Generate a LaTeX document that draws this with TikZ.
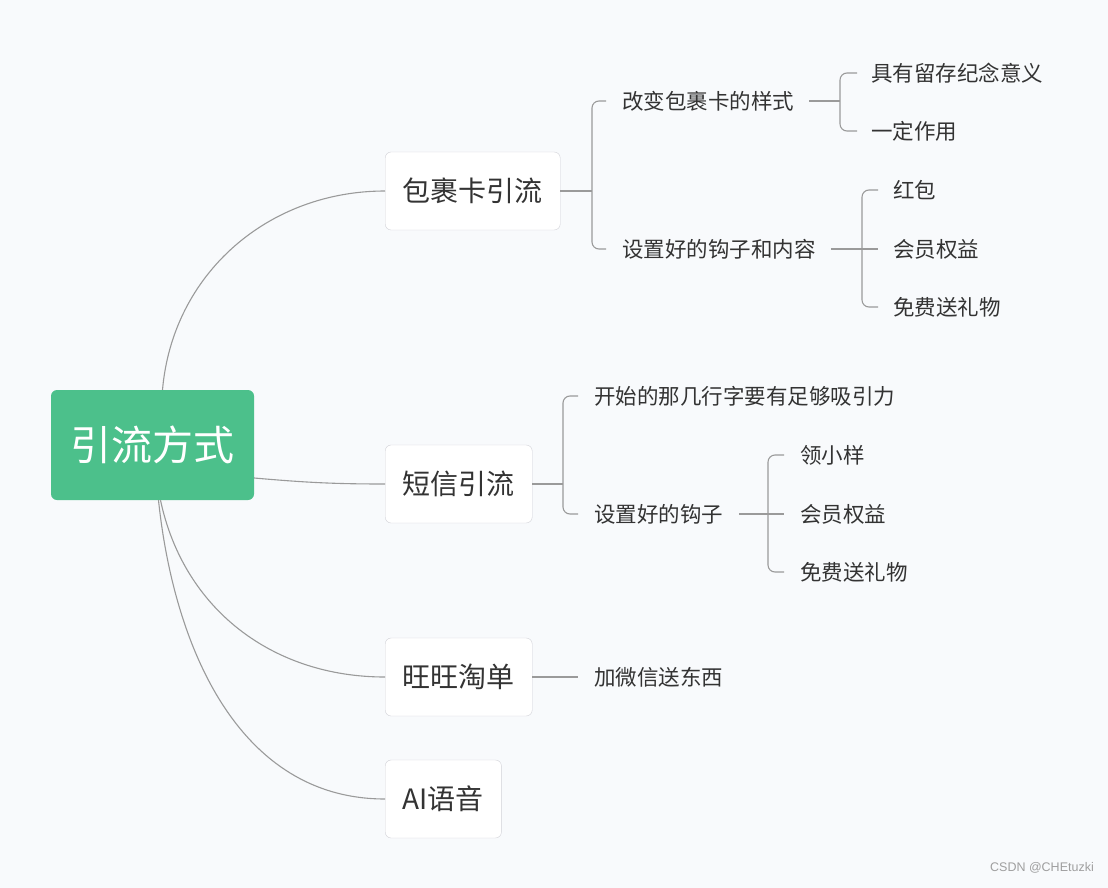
\documentclass[tikz,border=0pt]{standalone}
\usepackage{fontspec}
\setmainfont{Noto Sans CJK SC}
\newfontfamily\markfont{Liberation Sans}
\usetikzlibrary{positioning}
\definecolor{rootgreen}{HTML}{4CC08B}
\definecolor{textgray}{HTML}{333333}
\definecolor{linegray}{HTML}{9A9A9A}
\definecolor{boxline}{HTML}{D2D2D8}
\definecolor{bgcolor}{HTML}{F8FAFC}

\begin{document}
\begin{tikzpicture}[
  x=1pt, y=1pt,
  root/.style={rounded corners=6pt, fill=rootgreen, text=white, minimum width=203pt,
               minimum height=110pt, inner sep=0pt, font=\fontsize{41}{41}\selectfont},
  topic/.style={rounded corners=6pt, draw=boxline, fill=white, minimum height=78pt,
                inner xsep=17.5pt, anchor=west, text=textgray, font=\fontsize{28}{28}\selectfont},
  leaf/.style={anchor=west, inner sep=0pt, text=textgray, font=\fontsize{21.5}{21.5}\selectfont},
  link/.style={draw=linegray, line width=1.1pt},
  brace/.style={link, rounded corners=7pt},
]
\fill[bgcolor] (0,0) rectangle (1108,-888);
\useasboundingbox (0,0) rectangle (1108,-888);

\node[root]  (r)  at (152.5,-445) {引流方式};
\node[topic] (b)  at (385,-191)   {包裹卡引流};
\node[topic] (s)  at (385,-484)   {短信引流};
\node[topic] (w)  at (385,-677)   {旺旺淘单};
\node[topic] (ai) at (385,-799)   {AI语音};

% 包裹卡引流
\node[leaf] (b1)  at (622,-101) {改变包裹卡的样式};
\node[leaf] (b2)  at (622,-249) {设置好的钩子和内容};
\node[leaf] (b11) at (871,-73)  {具有留存纪念意义};
\node[leaf] (b12) at (871,-131) {一定作用};
\node[leaf] (b21) at (893,-190) {红包};
\node[leaf] (b22) at (893,-249) {会员权益};
\node[leaf] (b23) at (893,-307) {免费送礼物};

% 短信引流
\node[leaf] (s1)  at (594,-396) {开始的那几行字要有足够吸引力};
\node[leaf] (s2)  at (594,-514) {设置好的钩子};
\node[leaf] (s21) at (800,-455) {领小样};
\node[leaf] (s22) at (800,-514) {会员权益};
\node[leaf] (s23) at (800,-572) {免费送礼物};

% 旺旺淘单
\node[leaf] (w1)  at (594,-677) {加微信送东西};

\node[anchor=east, inner sep=0pt, text=gray!75, font=\markfont\fontsize{12.5}{12.5}\selectfont]
      (mark) at (1094,-868) {CSDN @CHEtuzki};

\coordinate (bj)  at (592,-191);
\coordinate (b1j) at (840,-101);
\coordinate (sj)  at (563,-484);

\draw[link] ([xshift=10pt]r.north) to[out=85, in=180] (b.west);
\draw[link] ([yshift=-33pt]r.east) to[out=-5, in=180] (s.west);
\draw[link] ([xshift=8pt]r.south) to[out=-78, in=180] (w.west);
\draw[link] ([xshift=6pt]r.south) to[out=-84, in=180] (ai.west);

\draw[link]  (b.east) -- (bj);
\draw[brace] ([xshift=-16pt]b1.west) -| ([xshift=-30pt]b2.west) -- ([xshift=-16pt]b2.west);
\draw[link]  ([xshift=15pt]b1.east) -- (b1j);
\draw[brace] ([xshift=-14pt]b11.west) -| ([xshift=-31pt]b12.west) -- ([xshift=-14pt]b12.west);
\draw[link]  ([xshift=15pt]b2.east) -- ([xshift=-15pt]b22.west);
\draw[brace] ([xshift=-15pt]b21.west) -| ([xshift=-31pt]b23.west) -- ([xshift=-15pt]b23.west);

\draw[link]  (s.east) -- (sj);
\draw[brace] ([xshift=-16pt]s1.west) -| ([xshift=-31pt]s2.west) -- ([xshift=-16pt]s2.west);
\draw[link]  ([xshift=16pt]s2.east) -- ([xshift=-16pt]s22.west);
\draw[brace] ([xshift=-16pt]s21.west) -| ([xshift=-32pt]s23.west) -- ([xshift=-16pt]s23.west);

\draw[link]  (w.east) -- ([xshift=-16pt]w1.west);
\end{tikzpicture}
\end{document}
